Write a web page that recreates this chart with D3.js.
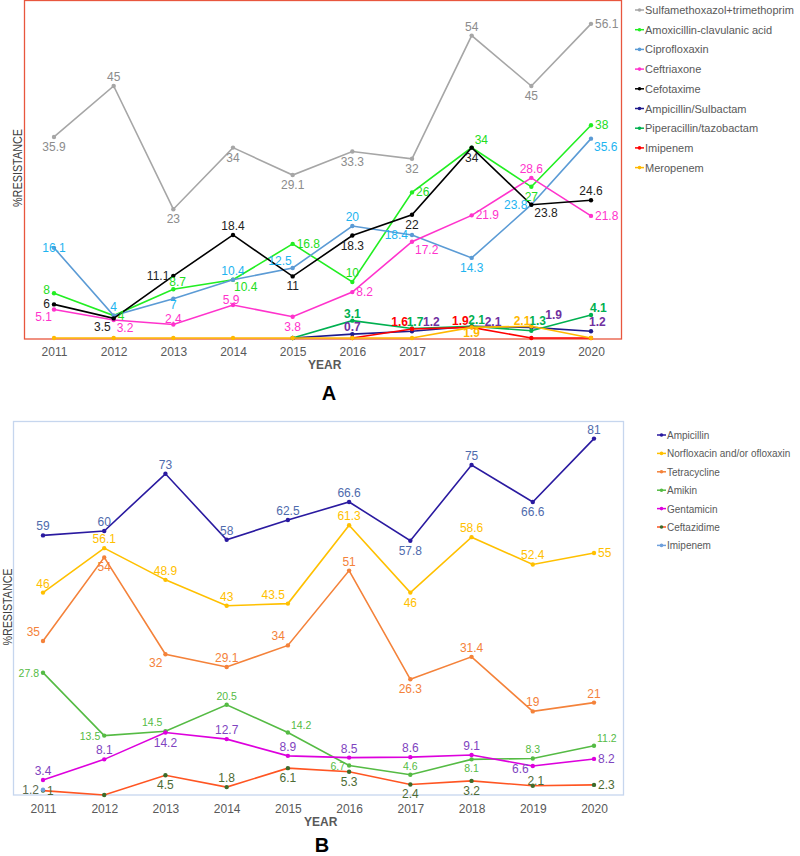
<!DOCTYPE html>
<html><head><meta charset="utf-8">
<script src="https://cdn.jsdelivr.net/npm/d3@7"></script>
<style>body{margin:0;background:#fff;font-family:"Liberation Sans",Arial,sans-serif}</style>
</head><body><svg id="c" width="800" height="856"></svg>
<script>
const years = ["2011","2012","2013","2014","2015","2016","2017","2018","2019","2020"];

// Panel A
const namesA = ["Sulfamethoxazol+trimethoprim","Amoxicillin-clavulanic acid","Ciprofloxaxin","Ceftriaxone","Cefotaxime","Ampicillin/Sulbactam","Piperacillin/tazobactam","Imipenem","Meropenem"];
const sulfa = [35.9,45,23,34,29.1,33.3,32,54,45,56.1];
const amox = [8,4,8.7,10.4,16.8,10,26,34,27,38];
const cipro = [16.1,4,7,10.4,12.5,20,18.4,14.3,23.8,35.6];
const ceftriaxone = [5.1,3.2,2.4,5.9,3.8,8.2,17.2,21.9,28.6,21.8];
const cefotaxime = [6,3.5,11.1,18.4,11,18.3,22,34,23.8,24.6];
const ampSulb = [null,null,null,null,0,0.7,1.2,2.1,1.9,1.2];
const pipTaz = [null,null,null,null,0,3.1,1.7,2.1,1.3,4.1];
const imipenemA = [null,null,null,null,null,0,1.6,1.9,0,0];
const meropenem = [0,0,0,0,0,0,0,1.9,2.1,0];
const seriesA = [sulfa,amox,cipro,ceftriaxone,cefotaxime,ampSulb,pipTaz,imipenemA,meropenem];

// Panel B
const namesB = ["Ampicillin","Norfloxacin and/or ofloxaxin","Tetracycline","Amikin","Gentamicin","Ceftazidime","Imipenem"];
const ampicillin = [59,60,73,58,62.5,66.6,57.8,75,66.6,81];
const norflox = [46,56.1,48.9,43,43.5,61.3,46,58.6,52.4,55];
const tetracycline = [35,54,32,29.1,34,51,26.3,31.4,19,21];
const amikin = [27.8,13.5,14.5,20.5,14.2,6.7,4.6,8.1,8.3,11.2];
const gentamicin = [3.4,8.1,14.2,12.7,8.9,8.5,8.6,9.1,6.6,8.2];
const ceftazidime = [1,0,4.5,1.8,6.1,5.3,2.4,3.2,2.1,2.3];
const imipenemB = [1.2,null,null,null,null,null,null,null,null,null];
const seriesB = [ampicillin,norflox,tetracycline,amikin,gentamicin,ceftazidime,imipenemB];

// styles
const styleA = [
 {line:"#a6a6a6",dot:"#a6a6a6",lab:"#8c8c8c",bold:false},
 {line:"#22ee22",dot:"#22ee22",lab:"#22dd22",bold:false},
 {line:"#5b9bd5",dot:"#5b9bd5",lab:"#1eb4f0",bold:false},
 {line:"#ff33cc",dot:"#ff33cc",lab:"#ff33cc",bold:false},
 {line:"#000000",dot:"#000000",lab:"#222222",bold:false},
 {line:"#1f1a8c",dot:"#1f1a8c",lab:"#7030a0",bold:true},
 {line:"#00b050",dot:"#00b050",lab:"#00b050",bold:true},
 {line:"#ff0000",dot:"#ff0000",lab:"#ff0000",bold:true},
 {line:"#ffb800",dot:"#ffb800",lab:"#ffb800",bold:true}
];
// label placement: code or [dx, dy, anchor]
const labPosA = [
 ["b","a","b","b","b","b","b","a","b","r"],
 [[-4,1,"end"],"r",[-4,-3,"start"],[1,11,"start"],"r","a","r","ar","b","r"],
 ["c","a",[0,10,"middle"],"a",[-1,-3,"end"],"a","l","b","l","br"],
 [[-2,12,"end"],"br",[0,-2,"middle"],[-2,-1,"middle"],"b","r","br","r","a","r"],
 [[-4,4,"end"],"bl","l","a","b","b","b","b","br","a"],
 ["","","","","",[0,-3,"middle"],[11,-5,"start"],[13,0,"start"],[14,-8,"start"],[-2,-5,"start"]],
 ["","","","","",[0,-3,"middle"],[3,-2,"middle"],[5,-2,"middle"],[-2,-6,"start"],[-1,-3,"start"]],
 ["","","","","","",[-4,-3,"end"],[-3,-2,"end"],"",""],
 ["","","","","","","",[0,10,"middle"],[-1,-1,"end"],""]
];
const styleB = [
 {line:"#2a1aa0",dot:"#2a1aa0",lab:"#4f6bad",fs:12},
 {line:"#ffc000",dot:"#ffc000",lab:"#ffc000",fs:12},
 {line:"#f4823a",dot:"#f4823a",lab:"#f4823a",fs:12},
 {line:"#55bb44",dot:"#55bb44",lab:"#55bb44",fs:10.5},
 {line:"#dd00dd",dot:"#dd00dd",lab:"#7f44c0",fs:12},
 {line:"#ff5522",dot:"#3d6b2a",lab:"#4d6b34",fs:12},
 {line:"#6fa0dc",dot:"#6fa0dc",lab:"#5a6b50",fs:12}
];
const labPosB = [
 ["a","a","a","a","a","a","b","a","b","a"],
 ["a","a","a","a","al","a","b","a","a","r"],
 ["al","b","bl","a","al","a","b","a","a","a"],
 ["l","l","al","a","ar","l","a","b","a","ar"],
 ["a","a","b","a","a","a","a","a",[-4,7,"end"],"r"],
 ["r","","b","a","b","b","b","b",[3,-1,"middle"],"r"],
 ["l","","","","","","","","",""]
];

const svg = d3.select("#c");
function off(p, fs){
  if (Array.isArray(p)) return p;
  const h = fs||12;
  switch(p){
    case "a": return [0,-5,"middle"];
    case "b": return [0,h+2,"middle"];
    case "l": return [-4,4,"end"];
    case "r": return [4,4,"start"];
    case "al": return [-3,-5,"end"];
    case "ar": return [3,-4,"start"];
    case "bl": return [-3,h+1,"end"];
    case "br": return [3,h,"start"];
    case "c": return [0,4,"middle"];
  }
  return [0,0,"middle"];
}

function drawPanel(g, x, y, series, styles, pos){
  series.forEach((s,i)=>{
    const st = styles[i];
    const pts = s.map((v,j)=>({v,yr:years[j],j})).filter(d=>d.v!==null);
    g.append("path").datum(pts)
      .attr("fill","none").attr("stroke",st.line).attr("stroke-width",1.6)
      .attr("d",d3.line().x(d=>x(d.yr)).y(d=>y(d.v)));
    g.selectAll(null).data(pts).enter().append("circle")
      .attr("cx",d=>x(d.yr)).attr("cy",d=>y(d.v)).attr("r",2.2).attr("fill",st.dot);
  });
  series.forEach((s,i)=>{
    const st = styles[i];
    const fs = st.fs||12;
    const pts = s.map((v,j)=>({v,yr:years[j],j})).filter(d=>d.v!==null && pos[i][d.j]);
    g.selectAll(null).data(pts).enter().append("text")
      .attr("x",d=>x(d.yr)+off(pos[i][d.j],fs)[0])
      .attr("y",d=>y(d.v)+off(pos[i][d.j],fs)[1])
      .attr("text-anchor",d=>off(pos[i][d.j],fs)[2])
      .attr("font-size",fs).attr("font-weight",st.bold?"bold":"normal")
      .attr("fill",st.lab).text(d=>d.v);
  });
}

function legend(g, names, styles, x0, y0, dy, fs){
  names.forEach((n,i)=>{
    const y = y0 + i*dy;
    g.append("line").attr("x1",x0).attr("x2",x0+9).attr("y1",y).attr("y2",y)
      .attr("stroke",styles[i].line).attr("stroke-width",1.5);
    g.append("circle").attr("cx",x0+4.5).attr("cy",y).attr("r",1.8).attr("fill",styles[i].dot);
    g.append("text").attr("x",x0+10).attr("y",y+4).attr("font-size",fs).attr("fill","#595959").text(n);
  });
}

// Panel A
const xA = d3.scalePoint().domain(years).range([54,591]);
const yA = d3.scaleLinear().domain([0,60]).range([338,2]);
const gA = svg.append("g");
gA.append("rect").attr("x",24.5).attr("y",0.5).attr("width",597).attr("height",338.5)
  .attr("fill","none").attr("stroke","#e8563e").attr("stroke-width",1.3);
drawPanel(gA,xA,yA,seriesA,styleA,labPosA);
gA.append("g").attr("transform","translate(0,339)")
  .call(d3.axisBottom(xA).tickSize(0).tickPadding(8))
  .call(a=>a.select(".domain").remove())
  .call(a=>a.selectAll("text").attr("font-size",12).attr("fill","#595959").attr("font-family","Liberation Sans, Arial"));
gA.append("text").attr("x",308).attr("y",369).attr("font-size",12).attr("font-weight","bold").attr("fill","#595959").text("YEAR");
gA.append("text").attr("transform","translate(22,168) rotate(-90)").attr("text-anchor","middle")
  .attr("font-size",12).attr("fill","#404040").attr("textLength",78).attr("lengthAdjust","spacingAndGlyphs").text("%RESISTANCE");
gA.append("text").attr("x",329).attr("y",400).attr("text-anchor","middle").attr("font-size",20).attr("font-weight","bold").attr("fill","#000").text("A");
legend(gA,namesA,styleA,635,10,19.7,11);

// Panel B
const xB = d3.scalePoint().domain(years).range([43,594]);
const yB = d3.scaleLinear().domain([0,85]).range([795,421]);
const gB = svg.append("g");
gB.append("rect").attr("x",13.5).attr("y",421.5).attr("width",610).attr("height",373.5)
  .attr("fill","none").attr("stroke","#c6d6ee").attr("stroke-width",1.3);
drawPanel(gB,xB,yB,seriesB,styleB,labPosB);
gB.append("g").attr("transform","translate(0,795)")
  .call(d3.axisBottom(xB).tickSize(0).tickPadding(9))
  .call(a=>a.select(".domain").remove())
  .call(a=>a.selectAll("text").attr("font-size",12).attr("fill","#595959").attr("font-family","Liberation Sans, Arial"));
gB.append("text").attr("x",304).attr("y",826).attr("font-size",12).attr("font-weight","bold").attr("fill","#595959").text("YEAR");
gB.append("text").attr("transform","translate(12,607) rotate(-90)").attr("text-anchor","middle")
  .attr("font-size",12).attr("fill","#404040").attr("textLength",77).attr("lengthAdjust","spacingAndGlyphs").text("%RESISTANCE");
gB.append("text").attr("x",322).attr("y",852).attr("text-anchor","middle").attr("font-size",20).attr("font-weight","bold").attr("fill","#000").text("B");
legend(gB,namesB,styleB,657,435,18.4,10);
</script></body></html>
